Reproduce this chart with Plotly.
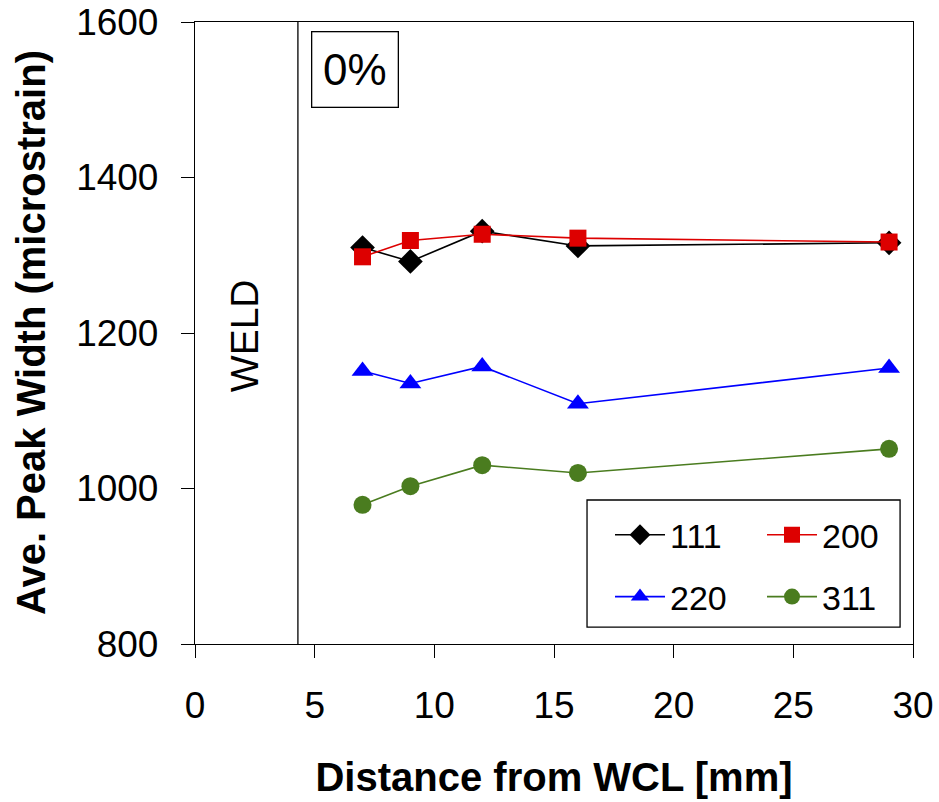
import plotly.graph_objects as go

distance = [7, 9, 12, 16, 29]
w111 = [1310, 1292, 1331, 1312, 1316]
w200 = [1298, 1319, 1327, 1322, 1317]
w220 = [1151, 1135, 1157, 1109, 1155]
w311 = [979, 1003, 1030, 1020, 1051]
x_ticks = [0, 5, 10, 15, 20, 25, 30]
y_ticks = [800, 1000, 1200, 1400, 1600]
weld_x = 4.3

FONT = "Liberation Sans, Arial, sans-serif"

fig = go.Figure()
series = [
    ("111", w111, "black", "diamond", 19, "legend"),
    ("200", w200, "#dd0000", "square", 17, "legend"),
    ("220", w220, "#0000ff", "triangle-up", 19, "legend2"),
    ("311", w311, "#4a7c1f", "circle", 18, "legend2"),
]
for name, vals, col, sym, sz, leg in series:
    fig.add_trace(go.Scatter(
        x=distance, y=vals, name=name, mode="lines+markers",
        line=dict(color=col, width=1.6),
        marker=dict(symbol=sym, size=sz, color=col, line=dict(width=0)),
        legend=leg,
    ))

fig.add_shape(type="line", xref="x", yref="paper", x0=weld_x, x1=weld_x, y0=0, y1=1,
              line=dict(color="black", width=1.3))
# legend frame
fig.add_shape(type="rect", xref="paper", yref="paper", x0=0.546, x1=0.982, y0=0.027, y1=0.2315,
              line=dict(color="black", width=1.3), fillcolor="rgba(0,0,0,0)")

fig.add_annotation(x=2.05, y=1196, xref="x", yref="y", text="WELD", textangle=-90,
                   showarrow=False, font=dict(family=FONT, size=39, color="black"))
fig.add_annotation(x=6.69, y=1539, xref="x", yref="y", text="0%", showarrow=False,
                   font=dict(family=FONT, size=44, color="black"),
                   width=83, height=72, borderpad=1,
                   bordercolor="black", borderwidth=1.3, bgcolor="white")
# y-axis title
fig.add_annotation(x=-0.2284, y=0.5, xref="paper", yref="paper",
                   text="<b>Ave. Peak Width (microstrain)</b>", textangle=-90,
                   showarrow=False, xanchor="center", yanchor="middle",
                   font=dict(family=FONT, size=40, color="black"))

legend_common = dict(orientation="h", xanchor="left", yanchor="middle",
                     font=dict(family=FONT, size=34, color="black"),
                     bgcolor="rgba(0,0,0,0)", borderwidth=0,
                     itemwidth=50, entrywidth=87, entrywidthmode="pixels",
                     tracegroupgap=0)

fig.update_layout(
    width=939, height=802,
    margin=dict(l=195, r=26, t=22, b=158, autoexpand=False),
    plot_bgcolor="white", paper_bgcolor="white",
    font=dict(family=FONT, color="black"),
    legend=dict(x=0.578, y=0.175, **legend_common),
    legend2=dict(x=0.578, y=0.0756, **legend_common),
    xaxis=dict(
        range=[0, 30], tickvals=x_ticks, ticktext=[str(v) for v in x_ticks],
        showline=True, linecolor="black", linewidth=1.3, mirror=True,
        ticks="outside", ticklen=13, tickwidth=1.3, tickcolor="black",
        ticklabelstandoff=15,
        showgrid=False, zeroline=False,
        tickfont=dict(family=FONT, size=37, color="black"),
        title=dict(text="<b>Distance from WCL [mm]</b>", standoff=38,
                   font=dict(family=FONT, size=40, color="black")),
    ),
    yaxis=dict(
        range=[800, 1600], tickvals=y_ticks, ticktext=[str(v) for v in y_ticks],
        showline=True, linecolor="black", linewidth=1.3, mirror=True,
        ticks="outside", ticklen=13, tickwidth=1.3, tickcolor="black",
        ticklabelstandoff=15,
        showgrid=False, zeroline=False,
        tickfont=dict(family=FONT, size=37, color="black"),
    ),
)

fig.write_html("out.html")
